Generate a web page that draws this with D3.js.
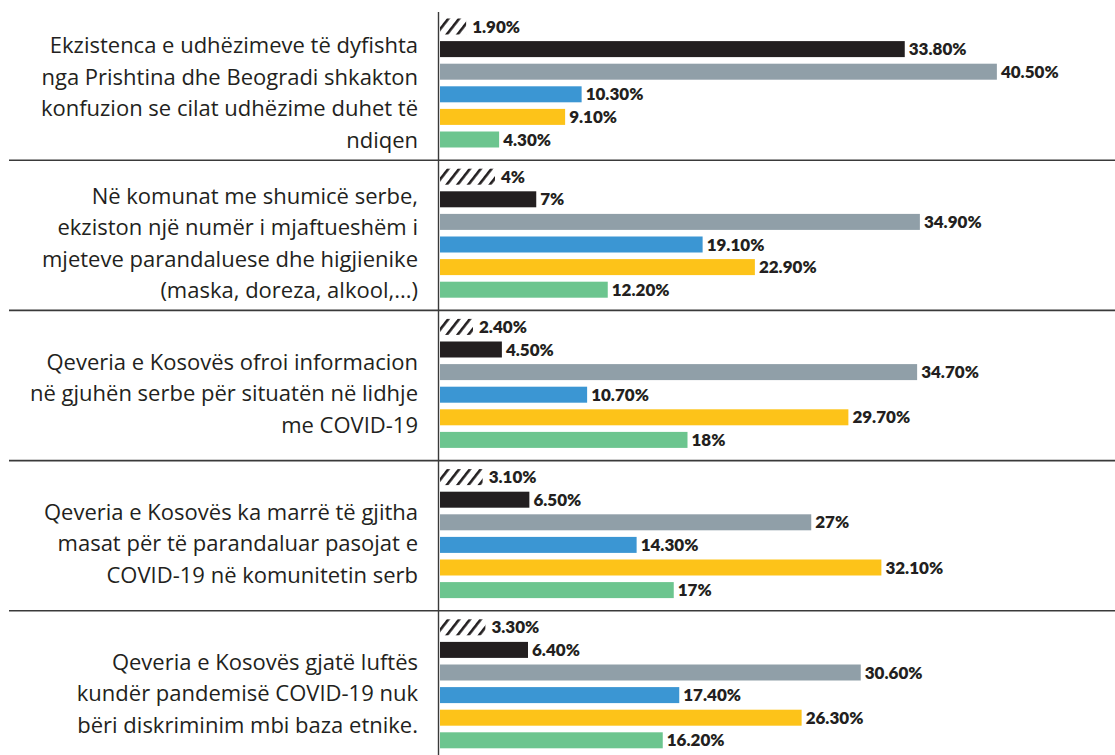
<!DOCTYPE html>
<html>
<head>
<meta charset="utf-8">
<script src="https://cdn.jsdelivr.net/npm/d3@7"></script>
<style>
body { margin: 0; background: #fff; }
.q { font-family: "Open Sans", Lato, sans-serif; font-size: 22px; fill: #231f20; }
.v { font-family: Lato, "Liberation Sans", sans-serif; font-weight: 800; font-size: 17px; fill: #231f20; }
</style>
</head>
<body>
<div id="chart"></div>
<script>
var W = 1115, H = 755;

var questions = [
  ["Ekzistenca e udhëzimeve të dyfishta", "nga Prishtina dhe Beogradi shkakton", "konfuzion se cilat udhëzime duhet të", "ndiqen"],
  ["Në komunat me shumicë serbe,", "ekziston një numër i mjaftueshëm i", "mjeteve parandaluese dhe higjienike", "(maska, doreza, alkool,...)"],
  ["Qeveria e Kosovës ofroi informacion", "në gjuhën serbe për situatën në lidhje", "me COVID-19"],
  ["Qeveria e Kosovës ka marrë të gjitha", "masat për të parandaluar pasojat e", "COVID-19 në komunitetin serb"],
  ["Qeveria e Kosovës gjatë luftës", "kundër pandemisë COVID-19 nuk", "bëri diskriminim mbi baza etnike."]
];

var series = ["s0", "s1", "s2", "s3", "s4", "s5"];
var colors = ["url(#hatch)", "#231f20", "#909fa8", "#3b96d3", "#fdc319", "#6cc58f"];

var values = [
  [1.9, 33.8, 40.5, 10.3, 9.1, 4.3],
  [4, 7, 34.9, 19.1, 22.9, 12.2],
  [2.4, 4.5, 34.7, 10.7, 29.7, 18],
  [3.1, 6.5, 27, 14.3, 32.1, 17],
  [3.3, 6.4, 30.6, 17.4, 26.3, 16.2]
];

var labels = [
  ["1.90%", "33.80%", "40.50%", "10.30%", "9.10%", "4.30%"],
  ["4%", "7%", "34.90%", "19.10%", "22.90%", "12.20%"],
  ["2.40%", "4.50%", "34.70%", "10.70%", "29.70%", "18%"],
  ["3.10%", "6.50%", "27%", "14.30%", "32.10%", "17%"],
  ["3.30%", "6.40%", "30.60%", "17.40%", "26.30%", "16.20%"]
];

var svg = d3.select("#chart").append("svg")
    .attr("width", W).attr("height", H);

// hatch for the first series
svg.append("defs").append("pattern")
    .attr("id", "hatch")
    .attr("patternUnits", "userSpaceOnUse")
    .attr("width", 8.5).attr("height", 20)
    .attr("patternTransform", "rotate(38)")
  .append("rect")
    .attr("x", 0).attr("y", 0)
    .attr("width", 2.6).attr("height", 20)
    .attr("fill", "#231f20");

var x = d3.scaleLinear().domain([0, 40]).range([440, 990]);

var gy = d3.scaleBand()
    .domain(d3.range(questions.length))
    .range([10.5, 10.5 + 150.2 * questions.length]);

var by = d3.scaleBand()
    .domain(series)
    .range([8, 137])
    .paddingInner(0.292);

// separators
svg.selectAll("line.sep")
  .data(d3.range(1, questions.length))
  .enter().append("line")
    .attr("class", "sep")
    .attr("x1", 9).attr("x2", W)
    .attr("y1", function(i) { return gy(i) - 0.5; })
    .attr("y2", function(i) { return gy(i) - 0.5; })
    .attr("stroke", "#3a3a3a")
    .attr("stroke-width", 1.6);

var g = svg.selectAll("g.grp")
  .data(values)
  .enter().append("g")
    .attr("class", "grp")
    .attr("transform", function(d, i) { return "translate(0," + gy(i) + ")"; });

g.selectAll("rect")
  .data(function(d) { return d; })
  .enter().append("rect")
    .attr("x", x(0))
    .attr("y", function(d, j) { return by(series[j]); })
    .attr("width", function(d) { return x(d) - x(0); })
    .attr("height", by.bandwidth())
    .attr("fill", function(d, j) { return colors[j]; });

g.selectAll("text.v")
  .data(function(d, i) { return d.map(function(v, j) { return { v: v, t: labels[i][j], j: j }; }); })
  .enter().append("text")
    .attr("class", "v")
    .attr("x", function(d) { return x(d.v) + (d.j === 0 ? 6 : 4); })
    .attr("y", function(d) { return by(series[d.j]) + by.bandwidth() / 2; })
    .attr("dy", "0.36em")
    .text(function(d) { return d.t; });

// question text, right aligned left of the axis
var mid = by.range()[0] + (by.range()[1] - by.range()[0]) / 2;
g.each(function(d, i) {
  var lines = questions[i];
  d3.select(this).selectAll("text.q")
    .data(lines)
    .enter().append("text")
      .attr("class", "q")
      .attr("x", 418)
      .attr("text-anchor", "end")
      .attr("y", function(l, k) { return mid + 10 + (k - (lines.length - 1) / 2) * 31.5; })
      .attr("dy", "0.35em")
      .text(function(l) { return l; });
});

// vertical axis line
svg.append("line")
    .attr("x1", 438.5).attr("x2", 438.5)
    .attr("y1", 12).attr("y2", H)
    .attr("stroke", "#3a3a3a")
    .attr("stroke-width", 1.4);
</script>
</body>
</html>
